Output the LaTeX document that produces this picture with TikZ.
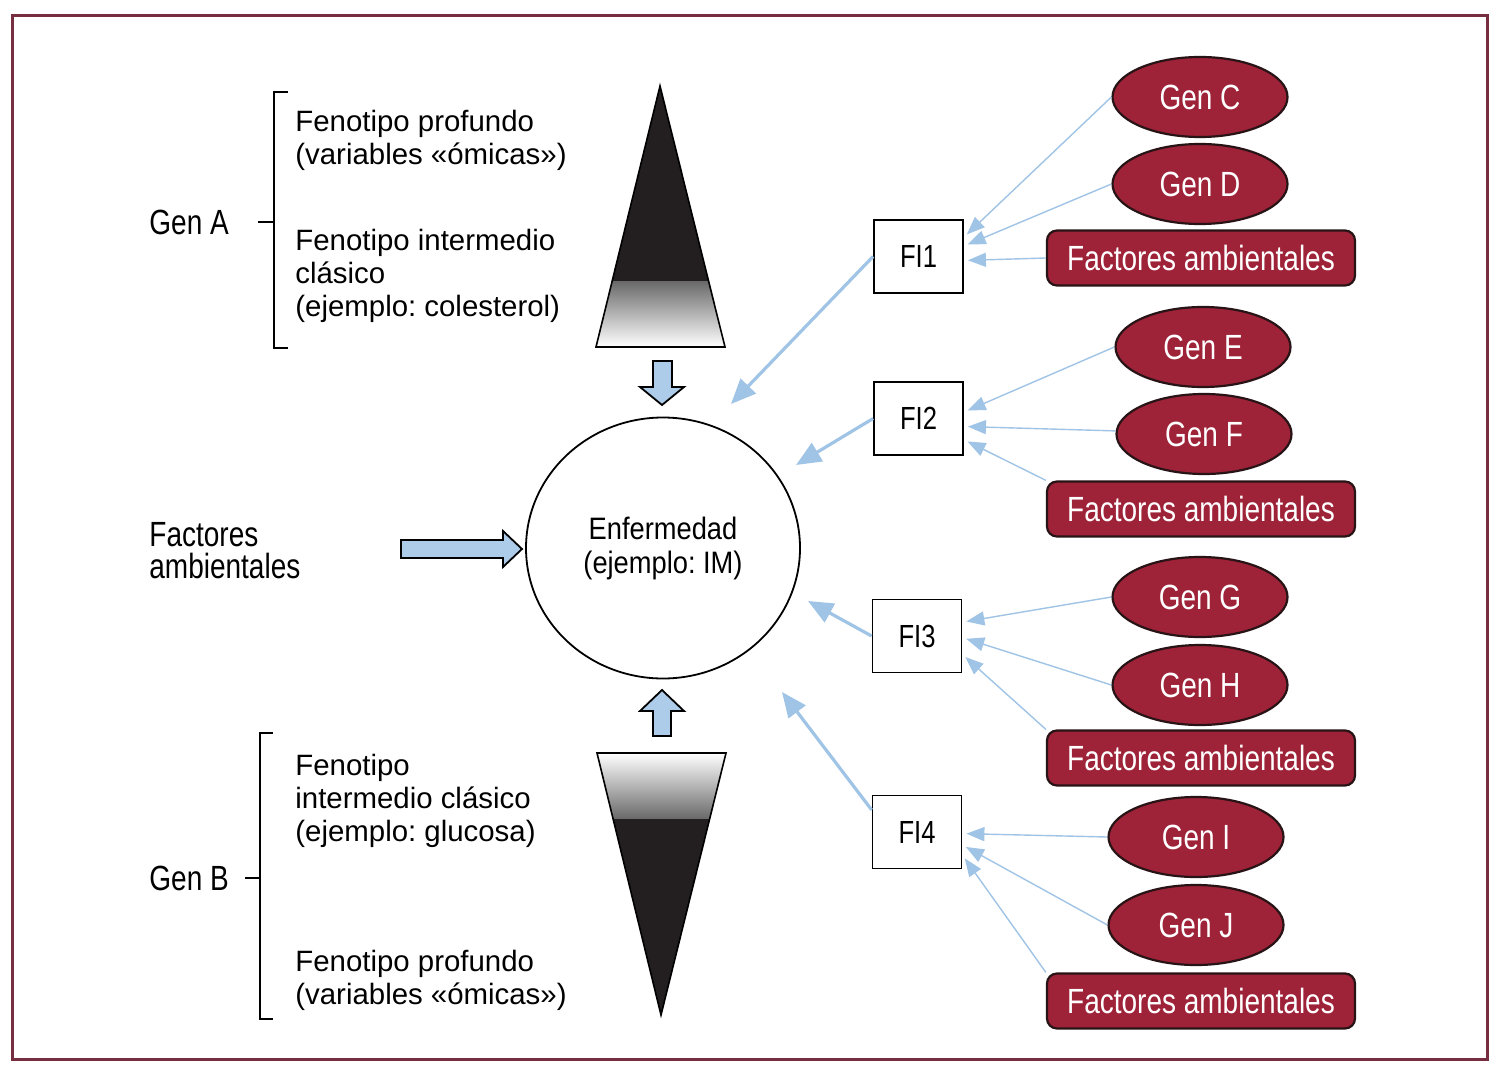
\documentclass[tikz,border=0pt]{standalone}
\usepackage{fontspec}
\setmainfont{Liberation Sans}
\newfontfamily\condfont{Liberation Sans}[FakeStretch=0.8]
\newfontfamily\semicondfont{Liberation Sans}[FakeStretch=0.88]
\usetikzlibrary{shapes.geometric,arrows.meta}
\frenchspacing
\definecolor{wine}{RGB}{158,34,56}
\definecolor{framecol}{RGB}{118,46,64}
\definecolor{edgedark}{RGB}{40,20,22}
\definecolor{ablue}{RGB}{173,204,234}
\definecolor{lblue}{RGB}{160,196,230}
\definecolor{coneblack}{RGB}{35,31,32}
\tikzset{
  gene/.style={ellipse, draw=edgedark, line width=1.1pt, fill=wine, text=white,
    minimum width=87.5pt, minimum height=40pt, inner sep=0pt,
    font=\condfont\fontsize{17.5}{20}\selectfont},
  envbox/.style={rectangle, rounded corners=5pt, draw=edgedark, line width=1.1pt, fill=wine, text=white,
    minimum width=154pt, minimum height=27.5pt, inner sep=0pt,
    font=\condfont\fontsize{17.5}{20}\selectfont},
  fibox/.style={rectangle, draw=black, line width=0.9pt, minimum width=44.5pt, minimum height=36.5pt,
    inner sep=0pt, font=\condfont\fontsize{16}{18}\selectfont},
  thinarrow/.style={draw=lblue, line width=0.7pt, -{Triangle[length=9pt,width=7pt]}, shorten >=2pt},
  thickarrow/.style={draw=lblue, line width=1.6pt, -{Triangle[length=12.5pt,width=10.5pt]}},
  blockarrow/.style={draw=black, line width=0.9pt, fill=ablue, line join=miter},
  smalltext/.style={font=\fontsize{14.7}{16.5}\selectfont, align=left, inner sep=0pt},
  bigtext/.style={font=\condfont\fontsize{17.5}{16}\selectfont, align=left, inner sep=0pt},
  bracketline/.style={draw=black, line width=1.1pt},
}
\begin{document}
\begin{tikzpicture}[x=0.5pt,y=-0.5pt]
\useasboundingbox (0,0) rectangle (1504,1075);
\fill[white] (0,0) rectangle (1504,1075);
\draw[framecol, line width=1.5pt] (12,16) rectangle (1487,1059);

% ---- cones ----
\fill[coneblack] (660,86) -- (725,347) -- (596,347) -- cycle;
\begin{scope}
  \clip (660,86) -- (725,347) -- (596,347) -- cycle;
  \shade[top color=black!58, bottom color=white] (590,282) rectangle (730,347);
\end{scope}
\draw[line width=0.8pt, line join=miter] (660,86) -- (725,347) -- (596,347) -- cycle;

\fill[coneblack] (597,753) -- (726,753) -- (661,1015) -- cycle;
\begin{scope}
  \clip (597,753) -- (726,753) -- (661,1015) -- cycle;
  \shade[top color=white, bottom color=black!58] (590,753) rectangle (730,818);
\end{scope}
\draw[line width=0.8pt, line join=miter] (597,753) -- (726,753) -- (661,1015) -- cycle;

% ---- block arrows ----
\draw[blockarrow] (653,361) -- (672,361) -- (672,387) -- (684,387) -- (662,405) -- (640,387) -- (653,387) -- cycle;
\draw[blockarrow] (653,736) -- (671,736) -- (671,711) -- (684,711) -- (662,690) -- (640,711) -- (653,711) -- cycle;
\draw[blockarrow] (401,540) -- (503,540) -- (503,531) -- (522,549) -- (503,567) -- (503,558) -- (401,558) -- cycle;

% ---- disease ----
\node[ellipse, draw=black, line width=0.9pt, minimum width=137pt, minimum height=130.5pt, inner sep=0pt,
  align=center, font=\semicondfont\fontsize{15.5}{17}\selectfont] (dis) at (663,548) {Enfermedad\\(ejemplo: IM)};

% ---- left texts ----
\node[bigtext, anchor=west] (genA) at (149,222) {Gen A};
\node[bigtext, anchor=west] (genB) at (149,878) {Gen B};
\node[bigtext, anchor=west] (envL) at (149,551) {Factores\\ambientales};

\node[smalltext, anchor=west] (a1) at (295,140) {Fenotipo profundo\\(variables «ómicas»)};
\node[smalltext, anchor=west] (a2) at (295,276) {Fenotipo intermedio\\clásico\\(ejemplo: colesterol)};
\node[smalltext, anchor=west] (b1) at (295,801) {Fenotipo\\intermedio clásico\\(ejemplo: glucosa)};
\node[smalltext, anchor=west] (b2) at (295,980) {Fenotipo profundo\\(variables «ómicas»)};

\draw[bracketline] (288,92) -- (274,92) -- (274,348) -- (288,348);
\draw[bracketline] (258,222) -- (274,222);
\draw[bracketline] (273,733) -- (260,733) -- (260,1019) -- (273,1019);
\draw[bracketline] (245,878) -- (260,878);

% ---- FI boxes ----
\node[fibox] (fi1) at (918.5,256.5) {FI1};
\node[fibox] (fi2) at (918.5,418.5) {FI2};
\node[fibox] (fi3) at (917,636) {FI3};
\node[fibox] (fi4) at (917,832) {FI4};

% ---- genes and environment ----
\node[gene] (gC) at (1200,97) {Gen C};
\node[gene] (gD) at (1200,184) {Gen D};
\node[envbox] (f1) at (1201,258) {Factores ambientales};
\node[gene] (gE) at (1203,347) {Gen E};
\node[gene] (gF) at (1204,434) {Gen F};
\node[envbox] (f2) at (1201,509) {Factores ambientales};
\node[gene] (gG) at (1200,597) {Gen G};
\node[gene] (gH) at (1200,685) {Gen H};
\node[envbox] (f3) at (1201,758) {Factores ambientales};
\node[gene] (gI) at (1196,837) {Gen I};
\node[gene] (gJ) at (1196,925) {Gen J};
\node[envbox] (f4) at (1201,1001) {Factores ambientales};

% ---- thin arrows ----
\draw[thinarrow] (gC.west) -- (fi1.23.7);
\draw[thinarrow] (gD.west) -- (fi1.13.3);
\draw[thinarrow] (f1.west) -- (fi1.-5.8);
\draw[thinarrow] (gE.west) -- (fi2.8.3);
\draw[thinarrow] (gF.178) -- (fi2.-10.8);
\draw[thinarrow] (f2.north west) -- (fi2.-25);
\draw[thinarrow] (gG.west) -- (fi3.17.3);
\draw[thinarrow] (gH.west) -- (fi3.-2.5);
\draw[thinarrow] (f3.north west) -- (fi3.-22.9);
\draw[thinarrow] (gI.west) -- (fi4.-2.5);
\draw[thinarrow] (gJ.west) -- (fi4.-16);
\draw[thinarrow] (f4.north west) -- (fi4.-27);

% ---- FI to disease ----
\coordinate (e1) at (731,404);
\coordinate (e2) at (796,465);
\coordinate (e3) at (808,601);
\coordinate (e4) at (782,692);
\draw[thickarrow] (fi1.west) -- (e1);
\draw[thickarrow] (fi2.west) -- (e2);
\draw[thickarrow] (fi3.west) -- (e3);
\draw[thickarrow] (fi4.154) -- (e4);
\end{tikzpicture}
\end{document}
